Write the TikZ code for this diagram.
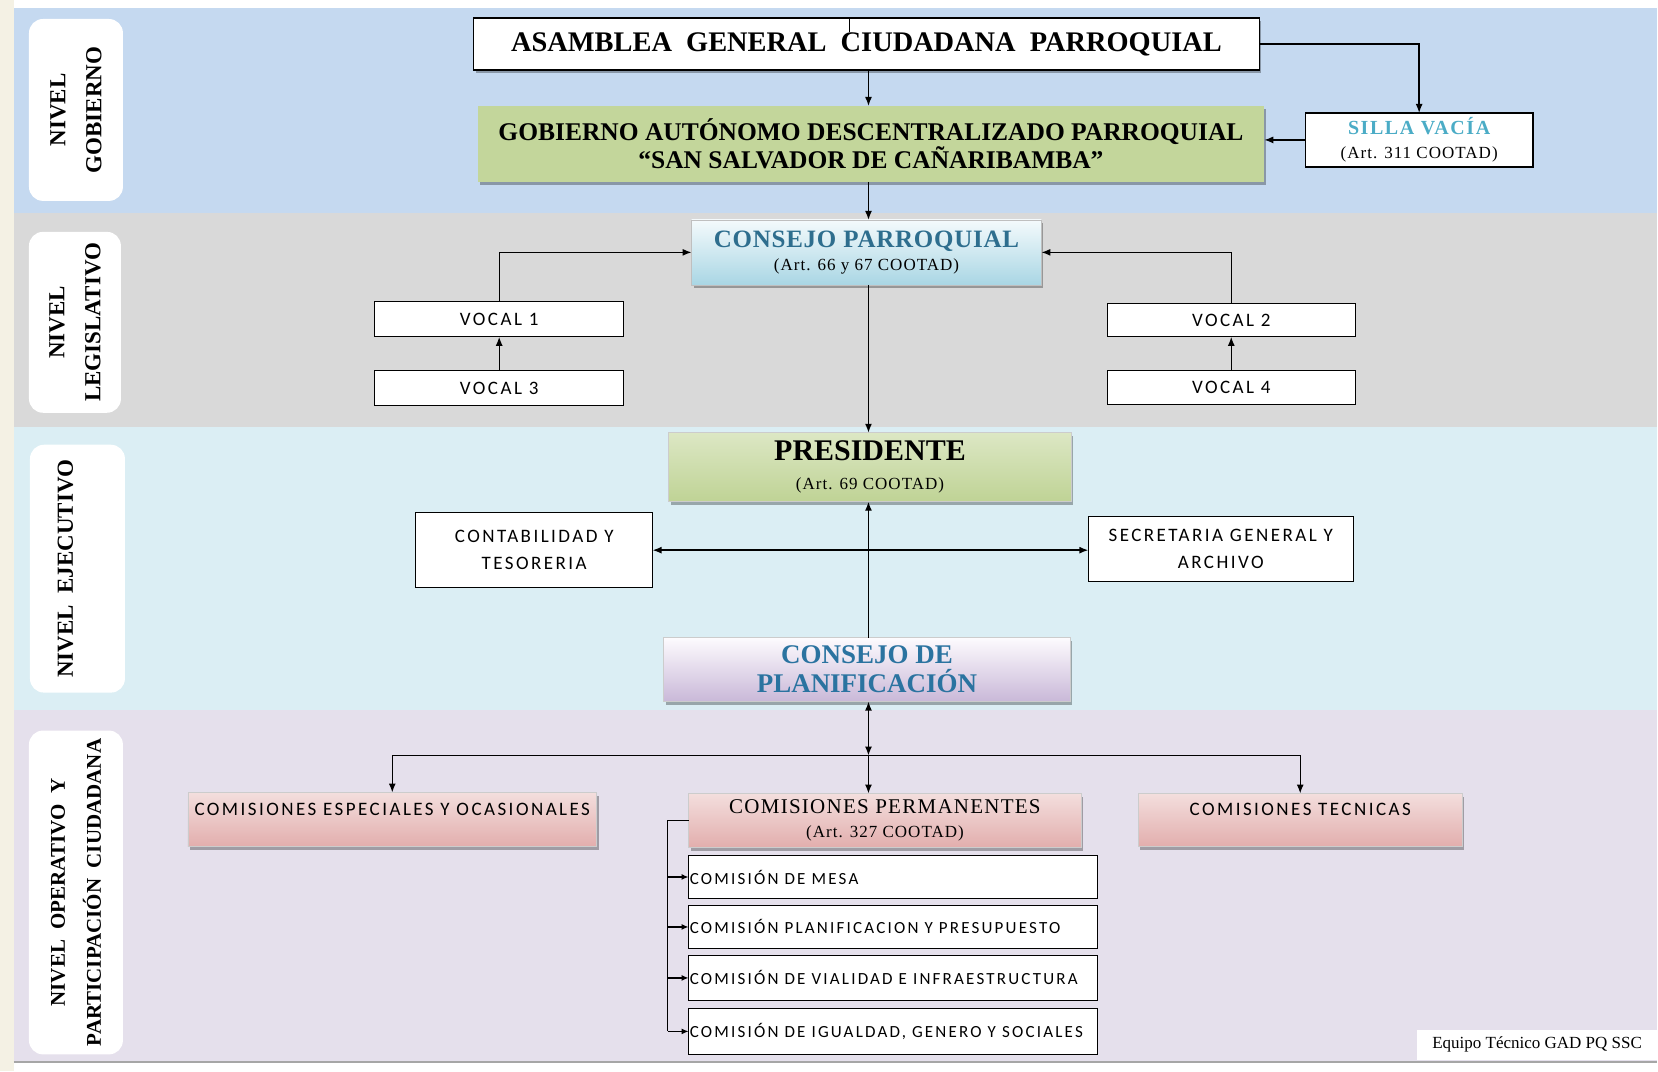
\documentclass[tikz,border=0pt]{standalone}
\usepackage{fontspec}
\setmainfont{Liberation Serif}
\newfontfamily\calsans{Carlito}[LetterSpace=13]
\newfontfamily\spserif{Liberation Serif}[LetterSpace=6]
\newfontfamily\spserifb{Liberation Serif}[LetterSpace=3]
\usetikzlibrary{arrows.meta,shadows}
\definecolor{cream}{HTML}{F4F1E4}
\definecolor{bandA}{HTML}{C5D9F0}
\definecolor{bandB}{HTML}{D9D9D9}
\definecolor{bandC}{HTML}{DBEEF4}
\definecolor{bandD}{HTML}{E5E0EC}
\definecolor{gadgreen}{HTML}{C3D69B}
\definecolor{sillablue}{HTML}{4BACC6}
\definecolor{cpteal}{HTML}{2E6E8E}
\definecolor{planblue}{HTML}{2A73A0}
\definecolor{cptop}{HTML}{F4FAFC}
\definecolor{cpbot}{HTML}{A9D6E4}
\definecolor{prestop}{HTML}{DCE7C4}
\definecolor{presmid}{HTML}{F1F5E6}
\definecolor{presbot}{HTML}{BFD395}
\definecolor{plantop}{HTML}{FDFBFE}
\definecolor{planbot}{HTML}{C9B8D8}
\definecolor{pinktop}{HTML}{F3DEDD}
\definecolor{pinkmid}{HTML}{FAEEEE}
\definecolor{pinkbot}{HTML}{E2AEAD}
\begin{document}
\begin{tikzpicture}[x=1pt,y=-1pt,
  shad/.style={drop shadow={shadow xshift=2pt,shadow yshift=-3pt,fill=black,opacity=0.3}},
  whitebox/.style={draw=black,line width=1.3pt,fill=white,inner sep=0pt,outer sep=0pt},
  labbox/.style={fill=white,rounded corners=14pt,inner sep=0pt},
  labtxt/.style={rotate=90,align=center,font=\bfseries\fontsize{23}{36}\selectfont},
  gadbox/.style={fill=gadgreen,inner sep=0pt,outer sep=0pt,shad,align=center},
  cpbox/.style={draw=gray!50,line width=0.6pt,top color=cptop,bottom color=cpbot,inner sep=0pt,outer sep=0pt,shad,align=center},
  presbox/.style={draw=gray!40,line width=0.6pt,top color=prestop,middle color=presmid,bottom color=presbot,inner sep=0pt,outer sep=0pt,shad,align=center},
  planbox/.style={draw=gray!40,line width=0.6pt,top color=plantop,bottom color=planbot,inner sep=0pt,outer sep=0pt,shad,align=center},
  pinkbox/.style={draw=gray!40,line width=0.6pt,top color=pinktop,middle color=pinkmid,bottom color=pinkbot,inner sep=0pt,outer sep=0pt,shad,align=center},
  sanstxt/.style={font=\calsans\fontsize{19}{27}\selectfont,align=center},
  subtxt/.style={font=\calsans\fontsize{17}{20}\selectfont,anchor=west,inner sep=0pt},
  conn/.style={line width=1.4pt},
  arr/.style={conn,-{Latex[length=9pt,width=7pt]}},
  sarr/.style={conn,-{Latex[length=7pt,width=6pt]}},
  dbl/.style={conn,{Latex[length=9pt,width=7pt]}-{Latex[length=9pt,width=7pt]}}
]
% background bands
\fill[cream] (0,0) rectangle (1658,1072);
\fill[white] (14,0) rectangle (1658,8);
\fill[white] (14,1064) rectangle (1658,1072);
\fill[bandA] (14,8) rectangle (1658,213);
\fill[bandB] (14,213) rectangle (1658,427);
\fill[bandC] (14,427) rectangle (1658,710);
\fill[bandD] (14,710) rectangle (1658,1062);
\draw[gray!70,line width=2pt] (14,1063) -- (1658,1063);
\useasboundingbox (0,0) rectangle (1658,1072);

% level labels
\node[labbox,minimum width=94pt,minimum height=182pt] (l1box) at (76,110) {};
\node[labtxt] (l1) at (l1box.center) {NIVEL\\GOBIERNO};
\node[labbox,minimum width=92pt,minimum height=181pt] (l2box) at (75,322.5) {};
\node[labtxt] (l2) at (l2box.center) {NIVEL\\LEGISLATIVO};
\node[labbox,minimum width=95pt,minimum height=248pt] (l3box) at (77.5,569) {};
\node[labtxt] (l3) at ([xshift=-12pt]l3box.center) {NIVEL\ \ EJECUTIVO};
\node[labbox,minimum width=94pt,minimum height=324pt] (l4box) at (76,893) {};
\node[labtxt,font=\bfseries\fontsize{21}{36}\selectfont] (l4) at (l4box.center) {NIVEL\ \ OPERATIVO\ \ Y\\PARTICIPACIÓN\ \ CIUDADANA};

% governance level
\node[whitebox,shad,minimum width=786pt,minimum height=52pt,font=\bfseries\fontsize{28.4}{30}\selectfont] (asam) at (867,44) {ASAMBLEA\ \ GENERAL\ \ CIUDADANA\ \ PARROQUIAL};
\coordinate (tickx) at (850,0);
\draw[line width=1.3pt] (asam.north -| tickx) -- ++(0,14);
\node[gadbox,minimum width=787pt,minimum height=76pt,font=\bfseries\fontsize{25.5}{28}\selectfont] (gad) at (871.5,144) {GOBIERNO AUTÓNOMO DESCENTRALIZADO PARROQUIAL\\“SAN SALVADOR DE CAÑARIBAMBA”};
\node[whitebox,minimum width=228pt,minimum height=54pt,align=center,font=\spserif\fontsize{17}{24}\selectfont] (silla) at (1420,140) {{\color{sillablue}\bfseries\fontsize{20}{24}\selectfont\addfontfeature{LetterSpace=8}SILLA VACÍA}\\(Art. 311 COOTAD)};

% legislative level
\node[cpbox,minimum width=350pt,minimum height=65pt,font=\spserif\fontsize{17}{23}\selectfont] (cp) at (867,252.5) {{\color{cpteal}\spserifb\bfseries\fontsize{25}{23}\selectfont CONSEJO PARROQUIAL}\\(Art. 66 y 67 COOTAD)};
\node[whitebox,sanstxt,minimum width=249pt,minimum height=35pt] (vocal1) at (499.5,319.5) {VOCAL 1};
\node[whitebox,sanstxt,minimum width=249pt,minimum height=35pt] (vocal3) at (499.5,388.5) {VOCAL 3};
\node[whitebox,sanstxt,minimum width=248pt,minimum height=33pt] (vocal2) at (1232,320.5) {VOCAL 2};
\node[whitebox,sanstxt,minimum width=248pt,minimum height=34pt] (vocal4) at (1232,388) {VOCAL 4};

% executive level
\node[presbox,minimum width=403pt,minimum height=69pt,font=\spserif\fontsize{17}{29}\selectfont] (pres) at (870.5,467.5) {{\rmfamily\bfseries\fontsize{30}{29}\selectfont PRESIDENTE}\\(Art. 69 COOTAD)};
\node[whitebox,sanstxt,minimum width=237pt,minimum height=75pt] (contab) at (534.5,550.5) {CONTABILIDAD Y\\TESORERIA};
\node[whitebox,sanstxt,minimum width=265pt,minimum height=65pt] (secre) at (1221.5,549.5) {SECRETARIA GENERAL Y\\ARCHIVO};
\node[planbox,minimum width=407pt,minimum height=64pt,text=planblue,font=\bfseries\fontsize{27}{29}\selectfont] (plan) at (867.5,670) {CONSEJO DE\\PLANIFICACIÓN};

% operative level
\node[pinkbox,minimum width=409pt,minimum height=54pt] (esp) at (392.5,820) {};
\node[sanstxt] (esptxt) at ([yshift=-17pt]esp.north) {COMISIONES ESPECIALES Y OCASIONALES};
\node[pinkbox,minimum width=393pt,minimum height=54pt,font=\spserif\fontsize{17}{24}\selectfont] (perm) at (885.5,821) {{\fontsize{21}{24}\selectfont COMISIONES PERMANENTES}\\(Art. 327 COOTAD)};
\node[pinkbox,minimum width=324pt,minimum height=53pt] (tec) at (1301,820.5) {};
\node[sanstxt] (tectxt) at ([yshift=-16pt]tec.north) {COMISIONES TECNICAS};

\node[whitebox,minimum width=409pt,minimum height=43pt] (sub1) at (893.5,877.5) {};
\node[whitebox,minimum width=409pt,minimum height=43pt] (sub2) at (893.5,927.5) {};
\node[whitebox,minimum width=409pt,minimum height=45pt] (sub3) at (893.5,978.5) {};
\node[whitebox,minimum width=409pt,minimum height=46pt] (sub4) at (893.5,1032) {};
\node[subtxt] (s1t) at ([xshift=1pt]sub1.west) {COMISIÓN DE MESA};
\node[subtxt] (s2t) at ([xshift=1pt]sub2.west) {COMISIÓN PLANIFICACION Y PRESUPUESTO};
\node[subtxt] (s3t) at ([xshift=1pt]sub3.west) {COMISIÓN DE VIALIDAD E INFRAESTRUCTURA};
\node[subtxt] (s4t) at ([xshift=1pt]sub4.west) {COMISIÓN DE IGUALDAD, GENERO Y SOCIALES};

% footer
\node[fill=white,inner sep=0pt,minimum width=240pt,minimum height=30pt,anchor=north west] (foot) at (1418,1030) {};
\node[anchor=west,inner sep=0pt,font=\fontsize{17}{20}\selectfont] (foottxt) at ([xshift=15pt]foot.west) {Equipo Técnico GAD PQ SSC};

% connectors
\coordinate (trunk) at (869,0);
\coordinate (junc) at (869,756);
\coordinate (brk) at (668,0);
\draw[arr] (asam.south -| trunk) -- (gad.north -| trunk);
\draw[arr] (asam.east) -| (silla.north);
\draw[arr] (silla.west) -- (silla.west -| gad.east);
\draw[arr] (gad.south -| trunk) -- (cp.north -| trunk);
\draw[arr] (vocal1.north) |- (cp.west);
\draw[arr] (vocal3.north) -- (vocal1.south);
\draw[arr] (vocal2.north) |- (cp.east);
\draw[arr] (vocal4.north) -- (vocal2.south);
\draw[arr] (cp.south -| trunk) -- (pres.north -| trunk);
\draw[arr] (plan.north -| trunk) -- (pres.south -| trunk);
\draw[dbl] (contab.east) -- (contab.east -| secre.west);
\draw[dbl] (plan.south -| trunk) -- (junc);
\draw[arr] (junc) -- (perm.north -| trunk);
\draw[arr] (junc) -| (esp.north);
\draw[arr] (junc) -| (tec.north);
\draw[conn] (perm.west) -- (perm.west -| brk) -- (sub4.west -| brk);
\draw[sarr] (sub1.west -| brk) -- (sub1.west);
\draw[sarr] (sub2.west -| brk) -- (sub2.west);
\draw[sarr] (sub3.west -| brk) -- (sub3.west);
\draw[sarr] (sub4.west -| brk) -- (sub4.west);
\end{tikzpicture}
\end{document}
